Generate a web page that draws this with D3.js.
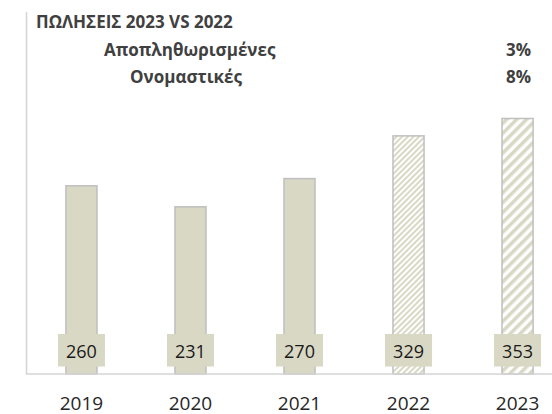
<!DOCTYPE html>
<html>
<head>
<meta charset="utf-8">
<script src="https://cdn.jsdelivr.net/npm/d3@7"></script>
<style>
	body { margin: 0; background: #fff; }
	svg { display: block; font-family: 'Open Sans', 'Noto Sans', sans-serif; }
</style>
</head>
<body>
<svg id="chart" width="552" height="414"></svg>
<script>
'use strict';

// Chart data
var years = ['2019', '2020', '2021', '2022', '2023'];
var sales = [260, 231, 270, 329, 353];
var hatched = [false, false, false, true, true];
var hatchSize = [0, 0, 0, 4, 7];

var titleText = 'ΠΩΛΗΣΕΙΣ 2023 VS 2022';
var growthLabels = ['Αποπληθωρισμένες', 'Ονομαστικές'];
var growthValues = ['3%', '8%'];

var svg = d3.select('#chart');
var baseY = 374;
var fillColour = '#d9d8c4';
var edgeColour = '#bfbfbf';

var x_scale = d3.scaleBand()
	.domain(years)
	.range([27, 572])
	.paddingInner(0.715)
	.paddingOuter(0.357);

var y_scale = d3.scaleLinear()
	.domain([0, 353])
	.range([baseY, 118.5]);

// Hatch patterns for the forecast bars
var defs = svg.append('defs');
years.forEach(function(y, i) {
	if (!hatched[i]) return;
	var s = hatchSize[i];
	var p = defs.append('pattern')
		.attr('id', 'hatch' + y)
		.attr('patternUnits', 'userSpaceOnUse')
		.attr('width', s)
		.attr('height', s)
		.attr('patternTransform', 'rotate(45)');
	p.append('rect').attr('width', s).attr('height', s).attr('fill', '#fff');
	p.append('rect').attr('width', s / 2).attr('height', s).attr('fill', fillColour);
});

// Frame lines
svg.append('line')
	.attr('x1', 26.5).attr('x2', 26.5)
	.attr('y1', 12).attr('y2', baseY)
	.attr('stroke', '#d4d4d4').attr('stroke-width', 1.5);

// Bars
var data = years.map(function(y, i) {
	return { year: y, value: sales[i], hatched: hatched[i] };
});

svg.selectAll('rect.bar')
	.data(data)
	.enter().append('rect')
	.attr('class', 'bar')
	.attr('x', function(d) { return x_scale(d.year); })
	.attr('y', function(d) { return y_scale(d.value); })
	.attr('width', x_scale.bandwidth())
	.attr('height', function(d) { return baseY - y_scale(d.value); })
	.attr('fill', function(d) { return d.hatched ? 'url(#hatch' + d.year + ')' : fillColour; })
	.attr('stroke', edgeColour)
	.attr('stroke-width', 1.5);

svg.append('line')
	.attr('x1', 26).attr('x2', 552)
	.attr('y1', baseY).attr('y2', baseY)
	.attr('stroke', '#d4d4d4').attr('stroke-width', 1.5);

// Value labels in boxes
var labels = svg.selectAll('g.vlabel')
	.data(data)
	.enter().append('g')
	.attr('class', 'vlabel')
	.attr('transform', function(d) {
		return 'translate(' + (x_scale(d.year) + x_scale.bandwidth() / 2) + ',350.5)';
	});

labels.append('rect')
	.attr('x', -23.5).attr('y', -16.5)
	.attr('width', 47).attr('height', 32.5)
	.attr('fill', fillColour);

labels.append('text')
	.attr('text-anchor', 'middle')
	.attr('y', 7.5)
	.attr('font-size', 18)
	.attr('fill', '#1a1a1a')
	.text(function(d) { return d.value; });

// Category axis labels
svg.selectAll('text.year')
	.data(years)
	.enter().append('text')
	.attr('class', 'year')
	.attr('x', function(d) { return x_scale(d) + x_scale.bandwidth() / 2; })
	.attr('y', 409.5)
	.attr('text-anchor', 'middle')
	.attr('font-size', 19)
	.attr('fill', '#262626')
	.text(function(d) { return d; });

// Title and growth table
svg.append('text')
	.attr('x', 36).attr('y', 28)
	.attr('font-size', 17)
	.attr('font-weight', 'bold')
	.attr('fill', '#404040')
	.text(titleText);

var rowX = [104, 130];
var rowY = [56, 83];
growthLabels.forEach(function(label, i) {
	svg.append('text')
		.attr('x', rowX[i]).attr('y', rowY[i])
		.attr('font-size', 17)
		.attr('font-weight', 'bold')
		.attr('fill', '#404040')
		.text(label);
	svg.append('text')
		.attr('x', 531).attr('y', rowY[i])
		.attr('text-anchor', 'end')
		.attr('font-size', 17)
		.attr('font-weight', 'bold')
		.attr('fill', '#404040')
		.text(growthValues[i]);
});
</script>
</body>
</html>
